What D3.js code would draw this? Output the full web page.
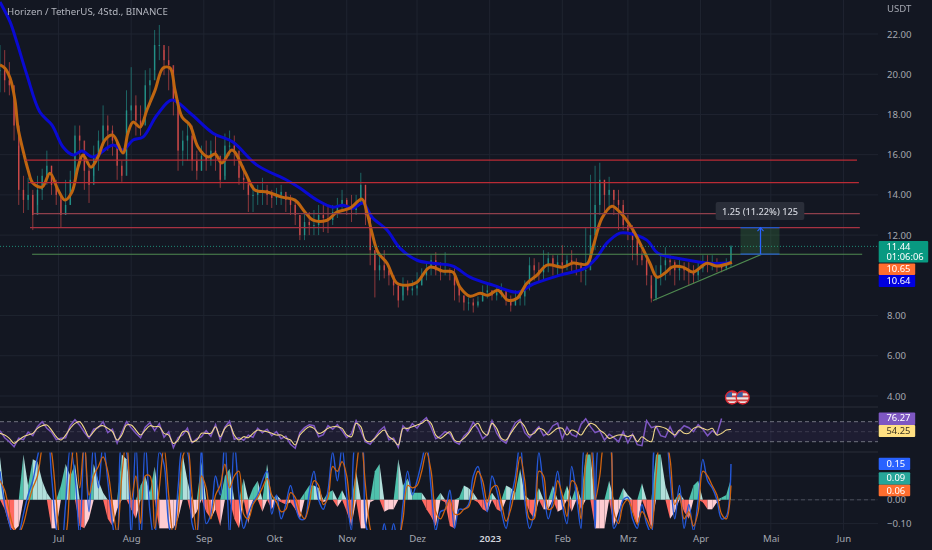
<!DOCTYPE html>
<html>
<head>
<meta charset="utf-8">
<script src="https://cdn.jsdelivr.net/npm/d3@7"></script>
<style>
html, body { margin: 0; padding: 0; background: #131722; overflow: hidden; }
text { font-family: "Noto Sans", sans-serif; }
#chart { display: block; }
.blurred { filter: blur(0.3px); }
</style>
</head>
<body>
<div id="chart"></div>
<script>
// days are counted from the first candle on the left edge
var startTime = Date.UTC(2022, 5, 6);
var candleStepDays = 2;

var candleHigh = [21.45,21.2,20.6,18.7,16.45,14.95,14.85,14.25,14.95,15.3,16.2,15.45,14.75,13.75,14.75,15.2,17.45,17.45,16.2,15.45,16.45,17.2,18.45,17.95,17.45,16.7,15.7,19.2,20.35,18.95,18.45,20.2,20.3,22.2,22.45,21.2,21.4,20.2,18.7,17.2,17.7,17.45,16.2,16.45,16.7,16.7,16.95,15.7,17.05,17.2,16.95,15.45,15.45,14.5,14.5,14.5,14.85,14.5,14.25,14.35,14.5,14.0,14.0,13.75,13.0,13.25,13.15,13.25,13.5,13.5,13.4,13.5,13.85,14.25,13.85,14.0,14.0,15.1,14.5,13.0,11.25,11.0,11.25,10.35,10.0,9.5,9.9,9.75,9.75,10.15,10.35,10.65,11.0,11.15,10.65,11.15,10.35,10.35,9.5,9.0,8.9,8.85,8.95,9.5,9.6,9.25,9.5,9.6,9.15,9.0,9.25,9.15,9.75,10.9,10.85,10.65,11.25,11.15,11.0,11.0,11.5,11.0,11.25,10.85,10.65,12.4,15.0,15.45,15.6,14.75,14.9,14.25,14.25,13.75,13.0,12.5,11.75,11.25,11.0,9.5,10.5,11.0,11.4,11.0,10.75,10.85,10.65,10.65,10.5,10.65,11.0,11.0,11.0,10.85,10.65,10.85,11.5];
var candleLow = [19.1,19.1,18.95,16.7,13.5,13.1,13.25,12.25,13.5,13.75,14.5,14.0,13.5,12.35,13.0,13.5,14.5,15.7,14.25,13.6,14.95,15.2,16.45,16.2,15.95,14.75,14.65,15.95,17.7,16.95,16.95,17.95,18.45,20.2,20.7,19.95,19.2,17.95,15.2,15.45,15.7,15.2,14.75,15.2,15.2,15.45,15.2,14.35,14.95,15.95,15.45,14.5,14.25,13.15,13.15,13.5,13.5,13.5,13.35,13.5,13.5,13.15,13.0,12.5,11.75,11.75,12.0,12.0,12.0,12.15,12.1,12.5,12.85,13.15,13.0,12.65,13.0,13.75,12.5,10.5,8.9,9.75,9.85,9.5,9.0,8.4,9.0,9.0,9.0,9.0,9.5,9.75,10.0,10.0,9.75,10.0,9.75,8.75,8.65,8.25,8.25,8.15,8.4,8.7,8.85,8.75,8.75,8.9,8.5,8.2,8.5,8.5,8.5,9.25,9.75,9.65,9.75,10.15,10.0,10.0,10.0,10.25,10.15,10.0,9.65,9.5,10.75,11.25,13.0,13.0,13.25,13.0,12.25,12.25,11.75,10.75,10.5,10.5,9.5,8.65,8.75,9.5,9.75,10.0,9.5,9.75,9.75,9.5,9.6,9.75,10.15,10.15,10.25,10.15,10.15,10.25,10.4];
var candleClose = [20.2,19.7,19.45,17.45,14.25,13.75,14.0,13.0,14.25,14.95,15.45,14.5,14.0,13.0,13.5,14.75,16.95,16.7,15.2,14.5,15.95,16.7,17.45,17.2,16.7,15.45,14.95,18.2,18.45,17.7,17.45,19.45,19.7,21.45,21.45,20.7,20.45,18.7,16.2,16.7,16.95,15.7,15.2,15.95,15.7,16.2,15.95,14.75,16.45,16.45,16.2,14.85,14.75,14.0,14.0,14.15,14.25,14.0,13.85,14.0,14.15,13.75,13.5,13.0,12.0,12.65,12.5,12.5,13.0,12.85,12.75,13.15,13.5,13.75,13.35,13.25,13.5,14.5,13.0,11.25,10.25,10.5,10.25,10.0,9.5,8.75,9.5,9.25,9.35,9.5,10.0,10.35,10.75,10.25,10.15,10.25,10.15,9.5,9.0,8.65,8.65,8.5,8.7,9.15,9.25,9.0,9.15,9.25,8.75,8.5,8.85,8.95,9.5,10.5,10.25,10.15,10.5,10.85,10.5,10.65,10.5,10.75,10.65,10.5,10.25,10.25,12.0,13.5,14.75,14.0,14.25,13.75,13.5,12.5,12.25,11.75,11.0,10.75,10.0,8.85,10.0,10.5,10.75,10.65,10.25,10.35,10.25,10.15,10.0,10.35,10.65,10.5,10.65,10.5,10.35,10.55,11.44];

var fastDays = [0,2,4.3,6.4,7.7,9.8,12,14,18,21.3,24.8,27.7,30.7,33.3,35.4,38.8,41.8,44.8,48.2,52.5,54.6,56.8,59.8,62.7,66.2,69.6,72.6,74.7,77.7,81.1,84.5,88.8,91.8,94.7,99,104.6,108.8,114,120.4,125.9,130.2,133.6,139.6,143.8,149.4,154.5,156.6,158.8,161.3,165.2,169.4,173.7,178,183.5,189,193.3,196.3,200.6,204.9,208.3,212.5,216.8,220.7,224.9,229.2,233.5,240.3,244.6,250.5,253.1,256.9,261.2,264.6,266.8,270.2,274,277.4,280.4,283.8,286.8,291.5,295.8,301.7,306,312.4];
var fastPrice = [20.46,20.31,19.81,18.71,17.32,16.23,15.23,14.59,14.39,15.08,14.24,13.74,14.14,15.38,15.98,15.38,15.88,16.73,16.97,16.08,17.07,17.62,17.37,18.22,19.21,20.31,20.31,19.21,17.87,17.47,16.38,15.88,16.03,15.58,16.23,15.13,14.24,14.14,13.89,13.74,13.14,12.74,12.74,13.14,13.34,13.79,13.14,12.1,11.15,10.6,9.61,9.51,9.66,10.41,10.21,10.16,9.41,8.96,9.11,9.01,9.26,8.76,8.86,9.61,10.01,10.51,10.41,10.61,10.56,11.4,12.84,13.44,13.14,12.84,12.25,11.4,10.6,9.91,10.11,10.41,10.41,10.16,10.6,10.46,10.65];
var slowDays = [0,4.3,7.3,11.5,17,22.2,26.9,31.2,35,39.7,48.2,52.5,56.8,61,67,73.4,81.1,90.9,99.4,109.7,122.5,128,135.3,142.1,146.4,150.7,154.9,158.8,165.2,170.7,178,184.8,193.3,200.6,210.4,221.1,227.5,239,249.7,254.8,259,264.6,267.6,276.1,280.8,291.5,303,312.4];
var slowPrice = [23.59,22.6,21.55,19.96,18.12,17.47,16.38,15.98,16.18,15.88,16.48,16.23,16.73,16.87,17.97,18.72,18.07,17.07,16.63,15.48,14.73,14.34,13.74,13.39,13.49,13.34,13.59,12.89,12.25,11.35,10.75,10.6,10.46,9.91,9.51,9.16,9.56,10.01,10.36,10.9,11.6,12.1,12.1,11.75,11.1,10.8,10.6,10.64];

// drawn levels: price, first day, last day
var levelPrice = [15.73,14.61,13.07,12.37,11.05];
var levelStart = [10.7,12,14,12.8,13.7];
var levelEnd = [365.8,366.6,367,367,368];
var levelColor = ["#b92b35","#b92b35","#8e3f4b","#a83242","#4f8a50"];
var trendDays = [278.7,325.2];
var trendPrice = [8.75,11.05];

var rsiValue = [52,38,30,20,37,34,49,42,60,70,57,49,34,37,38,62,74,63,49,37,55,58,70,48,55,27,49,70,58,47,38,59,68,52,66,39,50,18,38,44,57,28,36,40,52,41,64,34,59,71,35,38,33,43,39,57,48,55,42,50,36,41,25,17,48,58,64,
  62,40,44,62,55,64,52,38,46,72,52,30,25,38,52,60,34,37,19,62,52,66,57,70,78,59,36,41,50,46,30,25,41,50,69,56,36,44,72,47,33,27,50,68,74,48,38,50,60,42,48,62,67,36,59,44,40,65,76,60,48,52,33,45,38,
  30,50,28,45,24,22,72,58,61,42,39,60,40,52,62,58,50,64,55,42,52,45,76.27];
var rsiAverage = [46.7,43.3,36.7,26.7,33.3,40,43.3,46.7,56.7,62,63.3,53.3,40,33.3,43.3,56.7,66.7,70,56.7,40,50,60,62,56.7,50,33.3,43.3,63.3,63.3,53.3,43.3,53.3,62,60,60,46.7,43.3,26.7,33.3,50,50,30,33.3,46.7,46.7,46.7,60,40,56.7,63.3,43.3,33.3,40,38,46.7,53.3,51.3,50,46.7,43.3,43.3,36.7,33.3,23.3,43.3,53.3,60,
  56.7,46.7,50,56.7,60,60,56.7,43.3,40,66.7,60,33.3,30,36.7,46.7,53.3,40,33.3,23.3,56.7,56.7,60,63.3,66.7,73.3,66.7,43.3,36.7,43.3,50,33.3,30,36.7,46.7,60,66.7,50,43.3,66.7,56.7,36.7,33.3,46.7,60,70,60,43.3,46.7,56.7,53.3,43.3,50,56.7,56.7,43.3,53.3,50,43.3,56.7,66.7,63.3,53.3,46.7,36.7,40,43.3,43.3,
  40,43.3,30,40,33.3,30,60,60,56.7,50,43.3,53.3,46.7,46.7,56.7,60,56.7,53.3,56.7,43.3,46.7,53.3,54.25];

var macdHist = [.18,-.04,-.11,-.13,-.11,.19,.06,.17,.16,.08,.03,-.12,-.12,.06,.15,.1,.15,-.11,-.12,-.08,.15,.08,.03,-.08,-.11,-.04,.19,.17,-.04,-.08,.06,.1,.03,.14,-.12,-.12,-.12,-.12,-.08,.19,.08,-.08,-.05,.16,-.05,-.08,-.04,-.11,.1,.13,-.08,-.12,.09,-.1,.05,.08,-.05,.15,-.04,.02,-.01,-.02,-.01,-.04,-.08,.03,.06,
  .06,.05,-.01,.03,.04,-.03,.04,-.05,-.11,.12,-.12,-.12,-.01,.12,.15,-.05,-.04,-.04,.17,.06,.09,.03,.03,.03,-.04,-.07,-.11,.03,-.01,-.11,-.12,.01,.06,.05,.03,-.01,-.04,-.05,.03,-.04,-.05,.06,.05,.03,.13,.02,-.05,-.08,.05,-.04,-.04,.06,-.05,-.04,.06,-.05,.06,-.04,.19,.19,-.12,-.12,-.12,.08,-.11,-.05,.05,
  .02,-.05,-.11,.07,-.05,-.12,.19,.19,.06,-.08,-.05,.03,-.05,-.08,.06,.08,-.01,-.04,-.04,-.01,.01,.02,.09];
var macdLine = [.12,-.02,-.1,-.16,-.14,-.06,.02,.08,.18,.26,.28,.1,-.12,-.22,-.02,.22,.1,-.15,.24,-.05,.24,.05,.24,.08,-.1,-.2,.24,.2,-.15,.24,-.2,.24,-.05,-.18,.2,.15,-.1,-.18,.05,.22,.2,-.1,-.15,.22,-.1,-.06,.1,.02,.25,-.15,.24,.02,-.12,-.06,-.01,.02,.08,.12,-.06,.02,-.08,-.02,.06,-.02,-.08,-.08,.03,
  .12,0,-.04,.04,.2,.08,.22,.02,-.13,.25,.25,-.1,-.16,-.2,-.2,-.1,-.2,-.1,-.2,-.02,.12,.02,.08,.16,.24,.05,-.13,-.05,-.04,.04,-.12,-.04,-.04,-.02,.1,.14,.04,-.05,.1,.04,-.05,-.12,0,.1,.24,0,-.12,-.05,.2,.05,-.08,0,.12,-.02,-.1,.14,.02,-.12,.25,.25,-.12,.25,.25,.25,-.12,-.08,0,
  .01,-.08,-.12,-.02,-.1,-.14,.25,.25,.25,.1,-.08,.06,-.12,-.02,-.13,0,.17,.08,.05,0,-.08,-.07,.15];
var macdSignal = [.08,.04,-.05,-.12,-.14,-.1,-.02,.05,.1,.22,.28,.2,0,-.18,-.15,.1,.25,.05,.24,.02,.1,.14,.18,.12,-.02,-.14,.1,.26,0,.1,-.1,.1,.1,-.12,.05,.22,.02,-.15,-.06,.18,.22,.02,-.14,.1,.05,-.08,.02,.06,.15,.05,.1,.12,-.06,-.08,-.02,.01,.05,.09,.02,-.01,-.05,-.04,.03,.01,-.05,-.08,-.02,
  .08,.06,-.02,.01,.14,.12,.16,.1,-.08,.12,.26,.06,-.12,-.18,-.2,-.14,-.16,-.14,-.16,-.08,.06,.05,.06,.12,.2,.12,-.05,-.08,-.04,0,-.06,-.06,-.04,-.03,.05,.12,.08,-.01,.05,.06,-.01,-.09,-.04,.06,.18,.08,-.08,-.08,.12,.1,-.04,-.03,.08,.02,-.07,.08,.06,-.08,.15,.25,0,.1,.24,.25,-.05,-.1,-.02,
  0,-.05,-.1,-.05,-.08,-.12,.1,.25,.25,.17,-.02,.02,-.08,-.05,-.11,-.05,.12,.1,.06,.02,-.06,-.08,.06];

var priceTicks = [22,20,18,16,14,12,10,8,6,4];
var rsiBands = [70,50,30];
var macdTicks = [.1,0,-.1];
var monthDates = [[2022,6],[2022,7],[2022,8],[2022,9],[2022,10],[2022,11],[2023,0],[2023,1],[2023,2],[2023,3],[2023,4],[2023,5]];
var monthLabels = ["Jul","Aug","Sep","Okt","Nov","Dez","2023","Feb","Mrz","Apr","Mai","Jun"];

var width = 932;
var height = 550;
var paneRight = 878;

var svg = d3.select("#chart").append("svg")
    .attr("width", width)
    .attr("height", height)
    .attr("viewBox", [0, 0, width, height]);

svg.append("rect")
    .attr("width", width)
    .attr("height", height)
    .attr("fill", "#131722");

function dayToDate(d) {
    return new Date(startTime + d * 864e5);
}

var xScale = d3.scaleUtc()
    .domain([dayToDate(0), dayToDate(397.8)])
    .range([0, 932]);

var priceScale = d3.scaleLinear().domain([22, 4]).range([34, 396]);
var rsiScale = d3.scaleLinear().domain([70, 30]).range([421.7, 441.7]);
var macdScale = d3.scaleLinear().domain([.1, -.1]).range([476, 523.6]);

var defs = svg.append("defs");
function addClip(id, y0, y1) {
    defs.append("clipPath").attr("id", id).append("rect")
        .attr("x", 0).attr("y", y0).attr("width", paneRight).attr("height", y1 - y0);
}
addClip("mainClip", 0, 407);
addClip("macdClip", 452.5, 530);

// grid
var grid = svg.append("g").attr("stroke", "#1f2430").attr("stroke-width", 1);
var monthTimes = monthDates.map(d => new Date(Date.UTC(d[0], d[1], 1)));

grid.selectAll(".vgrid")
    .data(monthTimes).enter()
    .append("line")
    .attr("x1", d => xScale(d)).attr("x2", d => xScale(d))
    .attr("y1", 0).attr("y2", 530);

grid.selectAll(".pgrid")
    .data(priceTicks).enter()
    .append("line")
    .attr("x1", 0).attr("x2", paneRight)
    .attr("y1", d => priceScale(d)).attr("y2", d => priceScale(d));

grid.selectAll(".mgrid")
    .data(macdTicks).enter()
    .append("line")
    .attr("x1", 0).attr("x2", paneRight)
    .attr("y1", d => macdScale(d)).attr("y2", d => macdScale(d));

[407, 452].forEach(function(y) {
    svg.append("line")
        .attr("x1", 0).attr("x2", paneRight).attr("y1", y).attr("y2", y)
        .attr("stroke", "#2a2e39");
});

// candles
var mainPane = svg.append("g").attr("clip-path", "url(#mainClip)");
var candleGroup = mainPane.append("g").attr("class", "blurred");
var candleWidth = 1.5;

candleClose.forEach(function(close, i) {
    var open = i == 0 ? close : candleClose[i - 1];
    var time = dayToDate(i * candleStepDays);
    var color = close >= open ? "#26a69a" : "#ef5350";

    candleGroup.append("line")
        .attr("x1", xScale(time)).attr("x2", xScale(time))
        .attr("y1", priceScale(candleHigh[i])).attr("y2", priceScale(candleLow[i]))
        .attr("stroke", color).attr("stroke-width", 0.8).attr("opacity", 0.7);

    candleGroup.append("rect")
        .attr("x", xScale(time) - candleWidth / 2)
        .attr("y", priceScale(Math.max(open, close)))
        .attr("width", candleWidth)
        .attr("height", Math.max(1, Math.abs(priceScale(open) - priceScale(close))))
        .attr("fill", color).attr("opacity", 0.7);
});

// moving averages
var maLine = d3.line()
    .x(d => xScale(dayToDate(d[0])))
    .y(d => priceScale(d[1]))
    .curve(d3.curveCatmullRom);

mainPane.append("path")
    .datum(d3.zip(slowDays, slowPrice))
    .attr("d", maLine)
    .attr("fill", "none").attr("stroke", "#0a0ad2").attr("stroke-width", 3);

mainPane.append("path")
    .datum(d3.zip(fastDays, fastPrice))
    .attr("d", maLine)
    .attr("fill", "none").attr("stroke", "#bf6510").attr("stroke-width", 3);

// drawn levels
levelPrice.forEach(function(p, i) {
    mainPane.append("line")
        .attr("x1", xScale(dayToDate(levelStart[i])))
        .attr("x2", xScale(dayToDate(levelEnd[i])))
        .attr("y1", priceScale(p)).attr("y2", priceScale(p))
        .attr("stroke", levelColor[i]).attr("stroke-width", 1.1);
});

mainPane.append("line")
    .attr("x1", xScale(dayToDate(trendDays[0]))).attr("y1", priceScale(trendPrice[0]))
    .attr("x2", xScale(dayToDate(trendDays[1]))).attr("y2", priceScale(trendPrice[1]))
    .attr("stroke", "#4f8a50").attr("stroke-width", 1.2);

// last price line
svg.append("line")
    .attr("x1", 0).attr("x2", paneRight)
    .attr("y1", priceScale(11.44)).attr("y2", priceScale(11.44))
    .attr("stroke", "#1f8a78").attr("stroke-width", 1).attr("stroke-dasharray", "1 2");

// long position tool
var longLeft = 740.5, longRight = 779.5, longMid = 760.5;
svg.append("rect")
    .attr("x", longLeft).attr("width", longRight - longLeft)
    .attr("y", priceScale(12.37)).attr("height", priceScale(11.05) - priceScale(12.37))
    .attr("fill", "#4caf50").attr("opacity", 0.2);
[12.37, 11.05].forEach(function(p) {
    svg.append("line")
        .attr("x1", longLeft).attr("x2", longRight)
        .attr("y1", priceScale(p)).attr("y2", priceScale(p))
        .attr("stroke", "#2456c8").attr("stroke-width", 1.2);
});
svg.append("path")
    .attr("d", d3.line()([[longMid, priceScale(11.05)], [longMid, priceScale(12.37)]]))
    .attr("stroke", "#2962ff").attr("stroke-width", 1.3).attr("fill", "none");
svg.append("path")
    .attr("d", d3.line()([[longMid - 3, priceScale(12.37) + 3.5], [longMid, priceScale(12.37)], [longMid + 3, priceScale(12.37) + 3.5]]))
    .attr("stroke", "#2962ff").attr("stroke-width", 1.1).attr("fill", "none");

svg.append("rect")
    .attr("x", 715.7).attr("y", 202).attr("width", 88.6).attr("height", 18).attr("rx", 2)
    .attr("fill", "#2a2e39");
svg.append("text")
    .attr("x", 760).attr("y", 214.5)
    .attr("text-anchor", "middle").attr("font-size", 9.2).attr("font-weight", 500)
    .attr("fill", "#d1d4dc")
    .text("1.25 (11.22%) 125");

// event flags
[732, 742.7].forEach(function(cx, i) {
    var id = "flagClip" + i;
    defs.append("clipPath").attr("id", id).append("circle").attr("cx", cx).attr("cy", 397.5).attr("r", 6.5);
    var flag = svg.append("g");
    var body = flag.append("g").attr("clip-path", "url(#" + id + ")");
    body.append("rect").attr("x", cx - 7).attr("y", 390).attr("width", 14).attr("height", 15).attr("fill", "#e8e3e3");
    [391.5, 395.5, 399.5, 403].forEach(function(y) {
        body.append("rect").attr("x", cx - 7).attr("y", y).attr("width", 14).attr("height", 1.8).attr("fill", "#c9403f");
    });
    body.append("rect").attr("x", cx - 7).attr("y", 390).attr("width", 7).attr("height", 7).attr("fill", "#3d5c9e");
    flag.append("circle").attr("cx", cx).attr("cy", 397.5).attr("r", 6.5)
        .attr("fill", "none").attr("stroke", "#d8232f").attr("stroke-width", 1.3);
});

// RSI pane
svg.append("rect")
    .attr("x", 0).attr("width", paneRight)
    .attr("y", rsiScale(70)).attr("height", rsiScale(30) - rsiScale(70))
    .attr("fill", "#7e57c2").attr("opacity", 0.1);

svg.selectAll(".rsiBand")
    .data(rsiBands).enter()
    .append("line")
    .attr("x1", 0).attr("x2", paneRight)
    .attr("y1", d => rsiScale(d)).attr("y2", d => rsiScale(d))
    .attr("stroke", d => d == 50 ? "#3c3a4e" : "#6f727e")
    .attr("stroke-dasharray", "4 3");

var rsiLine = d3.line()
    .x((d, i) => xScale(dayToDate(i * candleStepDays)))
    .y(d => rsiScale(d));

svg.append("path").datum(rsiValue).attr("d", rsiLine)
    .attr("fill", "none").attr("stroke", "#7e57c2").attr("stroke-width", 1.5);
svg.append("path").datum(rsiAverage).attr("d", rsiLine.curve(d3.curveCatmullRom))
    .attr("fill", "none").attr("stroke", "#f2d98a").attr("stroke-width", 1.1);

// MACD pane
var macdPane = svg.append("g").attr("clip-path", "url(#macdClip)");

svg.append("line")
    .attr("x1", xScale(dayToDate(312))).attr("x2", paneRight)
    .attr("y1", macdScale(0)).attr("y2", macdScale(0))
    .attr("stroke", "#4a4e5a").attr("stroke-dasharray", "4 3");

// histogram is thin bars in the original, so each step is filled as one slanted piece
function histColor(d, prev) {
    if (d >= 0) {
        return d >= prev ? "#4fc1ac" : "#b2dfdb";
    }
    return d >= prev ? "#ffcdd2" : "#ff6a62";
}

var histArea = d3.area()
    .x(d => xScale(dayToDate(d.i * candleStepDays)))
    .y0(macdScale(0))
    .y1(d => macdScale(d.v));

macdHist.forEach(function(d, i) {
    if (i == 0) return;
    var prev = macdHist[i - 1];
    macdPane.append("path")
        .attr("d", histArea([{ i: i - 1, v: Math.max(prev, 0) }, { i: i, v: Math.max(d, 0) }]))
        .attr("fill", histColor(Math.max(d, 0), Math.max(prev, 0)));
    macdPane.append("path")
        .attr("d", histArea([{ i: i - 1, v: Math.min(prev, 0) }, { i: i, v: Math.min(d, 0) }]))
        .attr("fill", histColor(Math.min(d, -.0001), Math.min(prev, -.0001)));
});

var macdPath = d3.line()
    .x((d, i) => xScale(dayToDate(i * candleStepDays)))
    .y(d => macdScale(d))
    .curve(d3.curveCatmullRom);

macdPane.append("path").datum(macdLine).attr("d", macdPath)
    .attr("fill", "none").attr("stroke", "#2458d8").attr("stroke-width", 1.4);
macdPane.append("path").datum(macdSignal).attr("d", macdPath)
    .attr("fill", "none").attr("stroke", "#cf620f").attr("stroke-width", 1.3);

// axes
var priceAxis = d3.axisRight(priceScale)
    .tickValues(priceTicks)
    .tickFormat(d3.format(".2f"))
    .tickSize(0)
    .tickPadding(0);

var priceAxisG = svg.append("g")
    .attr("transform", "translate(887,0)")
    .call(priceAxis);

var macdAxis = d3.axisRight(macdScale)
    .tickValues([0, -.1])
    .tickFormat(d => d3.format(".2f")(d).replace("-", "\u2212"))
    .tickSize(0)
    .tickPadding(0);

var macdAxisG = svg.append("g")
    .attr("transform", "translate(887,0)")
    .call(macdAxis);

var timeAxis = d3.axisBottom(xScale)
    .tickValues(monthTimes)
    .tickFormat((d, i) => monthLabels[i])
    .tickSize(0)
    .tickPadding(0);

var timeAxisG = svg.append("g")
    .attr("transform", "translate(0,535)")
    .call(timeAxis);

[priceAxisG, macdAxisG, timeAxisG].forEach(function(g) {
    g.select(".domain").remove();
    g.selectAll("text")
        .attr("font-size", 9.6)
        .attr("font-family", "Roboto, sans-serif")
        .attr("fill", "#a4a7b0");
});

timeAxisG.selectAll("text")
    .filter((d, i) => monthLabels[i] == "2023")
    .attr("font-weight", 600)
    .attr("fill", "#d1d4dc");

svg.append("text").attr("x", 887).attr("y", 12)
    .attr("font-size", 9.6).attr("fill", "#a4a7b0").text("USDT");

svg.append("text").attr("x", 7).attr("y", 14.5)
    .attr("font-size", 9.7).attr("fill", "#b2b5be")
    .text("Horizen / TetherUS, 4Std., BINANCE");

// right side value labels
var valueLabels = [
    { text: ["11.44", "01:06:06"], y: 241, h: 21.5, w: 49.5, fill: "#089981", color: "#ffffff" },
    { text: ["10.65"], y: 263.5, h: 11.5, w: 36.5, fill: "#ff6d2e", color: "#ffffff" },
    { text: ["10.64"], y: 275, h: 12, w: 36.5, fill: "#0000e0", color: "#ffffff" },
    { text: ["76.27"], y: 412.5, h: 12.5, w: 36.5, fill: "#7e57c2", color: "#ffffff" },
    { text: ["54.25"], y: 425, h: 12, w: 36.5, fill: "#ffe082", color: "#3a3320" },
    { text: ["0.15"], y: 457.7, h: 12.3, w: 31.5, fill: "#2962ff", color: "#ffffff" },
    { text: ["0.09"], y: 472.2, h: 12.5, w: 31.5, fill: "#26a69a", color: "#ffffff" },
    { text: ["0.06"], y: 484.7, h: 11.6, w: 31.5, fill: "#ff6d2e", color: "#ffffff" }
];

valueLabels.forEach(function(d) {
    svg.append("rect")
        .attr("x", 878.7).attr("y", d.y)
        .attr("width", d.w).attr("height", d.h).attr("rx", 1)
        .attr("fill", d.fill);
    var label = svg.append("text")
        .attr("font-family", "Roboto, sans-serif")
        .attr("font-size", 9.4).attr("fill", d.color);
    d.text.forEach(function(t, i) {
        label.append("tspan")
            .attr("x", 886.5).attr("y", d.y + 8.8 + i * 10.5)
            .text(t);
    });
});
</script>
</body>
</html>
